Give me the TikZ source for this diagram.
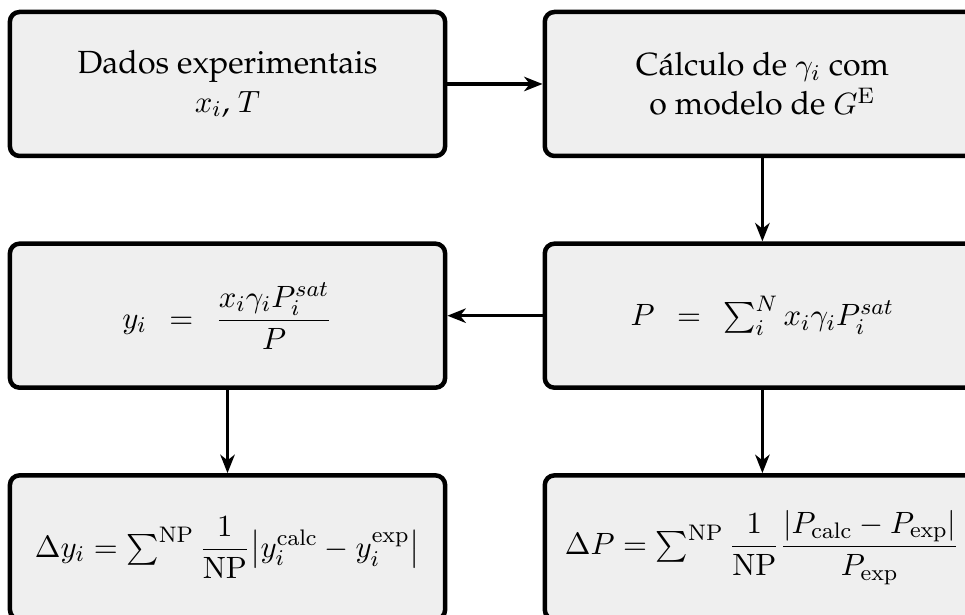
\documentclass[tikz,border=0pt]{standalone}
\usepackage[T1]{fontenc}
\usepackage{palatino}
\usepackage{amsmath}
\usetikzlibrary{arrows.meta,positioning}
\definecolor{boxgray}{HTML}{EFEFEF}

\begin{document}
\begin{tikzpicture}[node distance=1.04cm and 1.19cm,
  stage/.style={draw,line width=1.6pt,rounded corners=0.12cm,fill=boxgray,minimum width=5.44cm,minimum height=1.8cm,align=center,font=\fontsize{11.4}{13.7}\selectfont},
  flow/.style={line width=1.2pt,-{Stealth[length=2.3mm,width=1.8mm,inset=0.7mm]}}]
\useasboundingbox (-2.844,1.05) rectangle (9.219,-6.6375);
\node[stage] (dados) {Dados experimentais\\$x_i$, $T$};
\node[stage,right=of dados] (gama) {C\'alculo de $\gamma_i$ com\\o modelo de $G^{\mathrm{E}}$};
\node[stage,below=of gama] (pres) {$P \;\,=\;\, \sum_i^N x_i\gamma_i P_i^{sat}$};
\node[stage,below=of dados] (vap) {$y_i \;\,=\;\, \dfrac{x_i\gamma_i P_i^{sat}}{P}$};
\node[stage,below=of vap] (erry) {$\Delta y_i = \sum^{\mathrm{NP}} \dfrac{1}{\mathrm{NP}}\bigl|y_i^{\mathrm{calc}} - y_i^{\mathrm{exp}}\bigr|$};
\node[stage,below=of pres] (errp) {$\Delta P = \sum^{\mathrm{NP}} \dfrac{1}{\mathrm{NP}}\dfrac{|P_{\mathrm{calc}} - P_{\mathrm{exp}}|}{P_{\mathrm{exp}}}$};
\draw[flow] (dados) -- (gama);
\draw[flow] (gama) -- (pres);
\draw[flow] (pres) -- (vap);
\draw[flow] (vap) -- (erry);
\draw[flow] (pres) -- (errp);
\end{tikzpicture}
\end{document}
